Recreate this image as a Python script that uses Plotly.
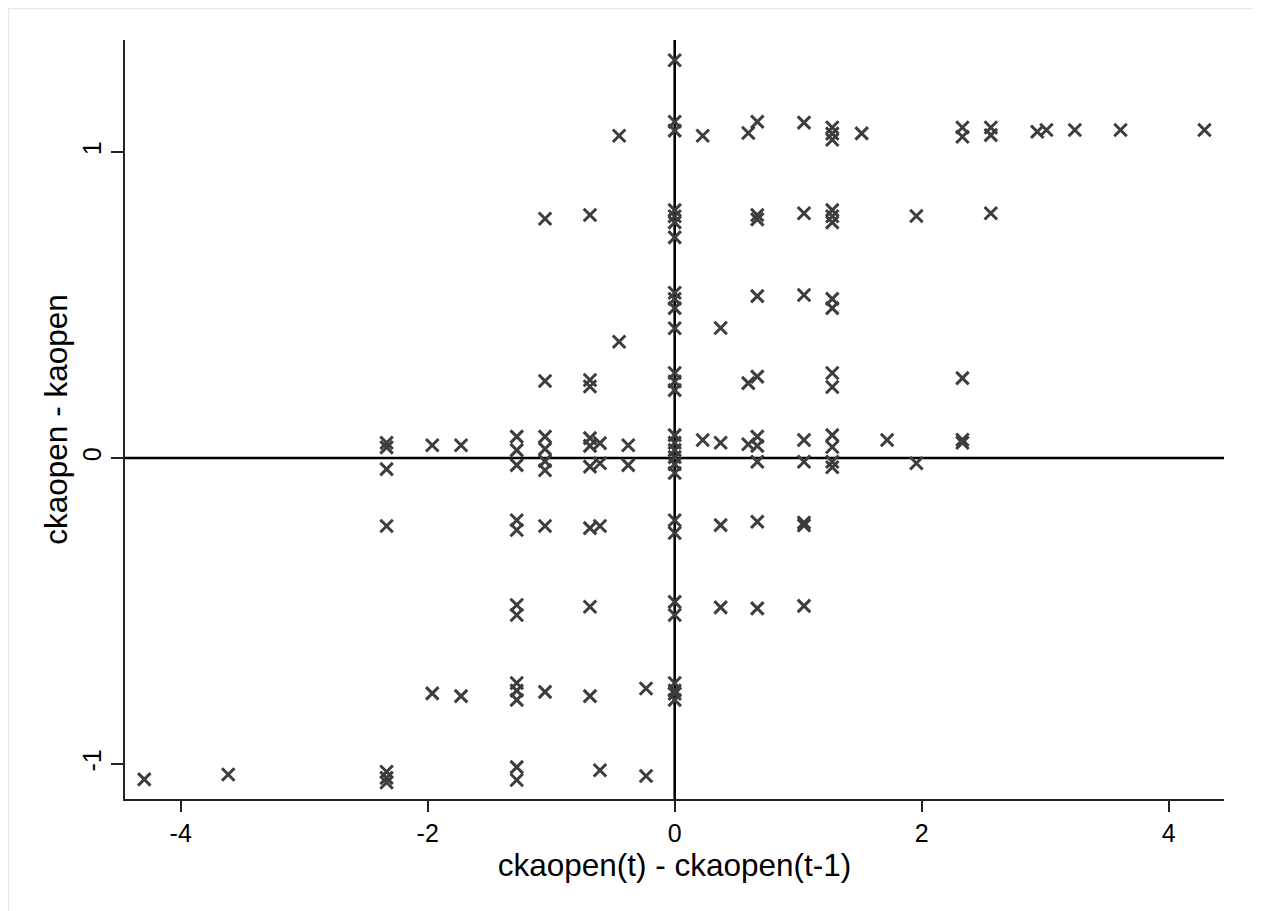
import plotly.graph_objects as go

# x = ckaopen(t) - ckaopen(t-1), y = ckaopen - kaopen ; grouped by x value
x_vals = (
    [-4.295] + [-3.615]
    + [-2.333] * 7
    + [-1.963] * 2 + [-1.73] * 2
    + [-1.279] * 12
    + [-1.05] * 8
    + [-0.686] * 9
    + [-0.605] * 4
    + [-0.45] * 2
    + [-0.376] * 2
    + [-0.232] * 2
    + [0.0] * 28
    + [0.227] * 2
    + [0.372] * 4
    + [0.596] * 3
    + [0.669] * 10
    + [1.047] * 8
    + [1.276] * 14
    + [1.514]
    + [1.72]
    + [1.957] * 2
    + [2.33] * 5
    + [2.56] * 3
    + [2.936, 3.01, 3.24, 3.61, 4.29]
)

y_vals = (
    [-1.05] + [-1.034]
    + [0.05, 0.035, -0.036, -0.222, -1.025, -1.045, -1.06]
    + [0.042, -0.769] + [0.042, -0.778]
    + [0.07, 0.026, -0.023, -0.203, -0.235, -0.48, -0.513, -0.735, -0.76, -0.79, -1.01, -1.052]
    + [0.782, 0.252, 0.07, 0.03, -0.01, -0.04, -0.222, -0.764]
    + [0.794, 0.255, 0.234, 0.065, 0.04, -0.028, -0.229, -0.486, -0.778]
    + [0.049, -0.017, -0.222, -1.02]
    + [1.053, 0.38]
    + [0.042, -0.023]
    + [-0.753, -1.039]
    + [1.30, 1.099, 1.07, 0.81, 0.79, 0.77, 0.721, 0.54, 0.52, 0.49, 0.424,
       0.278, 0.25, 0.222, 0.075, 0.05, 0.026, 0.003, -0.02, -0.049,
       -0.203, -0.245, -0.47, -0.513, -0.735, -0.76, -0.79, -0.77]
    + [1.053, 0.059]
    + [0.425, 0.05, -0.219, -0.488]
    + [1.062, 0.245, 0.045]
    + [1.099, 0.794, 0.78, 0.529, 0.266, 0.07, 0.04, -0.012, -0.208, -0.491]
    + [1.096, 0.80, 0.533, 0.059, -0.012, -0.211, -0.22, -0.483]
    + [1.08, 1.06, 1.04, 0.81, 0.79, 0.77, 0.52, 0.49, 0.278, 0.232, 0.075, 0.036, -0.012, -0.03]
    + [1.061]
    + [0.059]
    + [0.791, -0.017]
    + [1.08, 1.05, 0.261, 0.06, 0.05]
    + [1.08, 1.055, 0.80]
    + [1.066, 1.072, 1.072, 1.072, 1.072]
)

x_ticks = [-4, -2, 0, 2, 4]
y_ticks = [-1, 0, 1]
x_title = "ckaopen(t) - ckaopen(t-1)"
y_title = "ckaopen - kaopen"

fig = go.Figure()
fig.add_trace(go.Scatter(
    x=x_vals, y=y_vals, mode="markers",
    marker=dict(symbol="x-thin", size=12.5, line=dict(width=3, color="#3d3d3d"), color="#3d3d3d"),
    showlegend=False, hoverinfo="x+y",
))

fig.add_hline(y=0, line=dict(color="black", width=2.6), layer="below")
fig.add_vline(x=0, line=dict(color="black", width=2.6), layer="below")

# light outer frame
fig.add_shape(type="rect", xref="paper", yref="paper",
              x0=-0.106, x1=1.029, y0=-0.17, y1=1.0415,
              line=dict(color="#e3eaea", width=1.5), layer="below")

fig.update_layout(
    width=1253, height=903,
    margin=dict(l=117, r=37, t=32, b=112),
    paper_bgcolor="white", plot_bgcolor="white",
    font=dict(family="Liberation Sans, Arial, sans-serif", color="black"),
    xaxis=dict(
        range=[-4.451, 4.448], tickvals=x_ticks, ticktext=[str(v) for v in x_ticks],
        showgrid=False, zeroline=False, showline=True, linecolor="#222222", linewidth=2,
        ticks="outside", ticklen=11, tickwidth=1.5, tickcolor="#222222",
        tickfont=dict(size=25),
        title=dict(text=x_title, font=dict(size=31.5), standoff=4),
    ),
    yaxis=dict(
        range=[-1.114, 1.366], tickvals=y_ticks, ticktext=[str(v) for v in y_ticks],
        showgrid=False, zeroline=False, showline=True, linecolor="#222222", linewidth=2,
        ticks="outside", ticklen=12, tickwidth=1.5, tickcolor="#222222",
        tickangle=-90, tickfont=dict(size=25),
        title=dict(text=y_title, font=dict(size=31.5), standoff=1),
    ),
)

fig.write_html("out.html")
